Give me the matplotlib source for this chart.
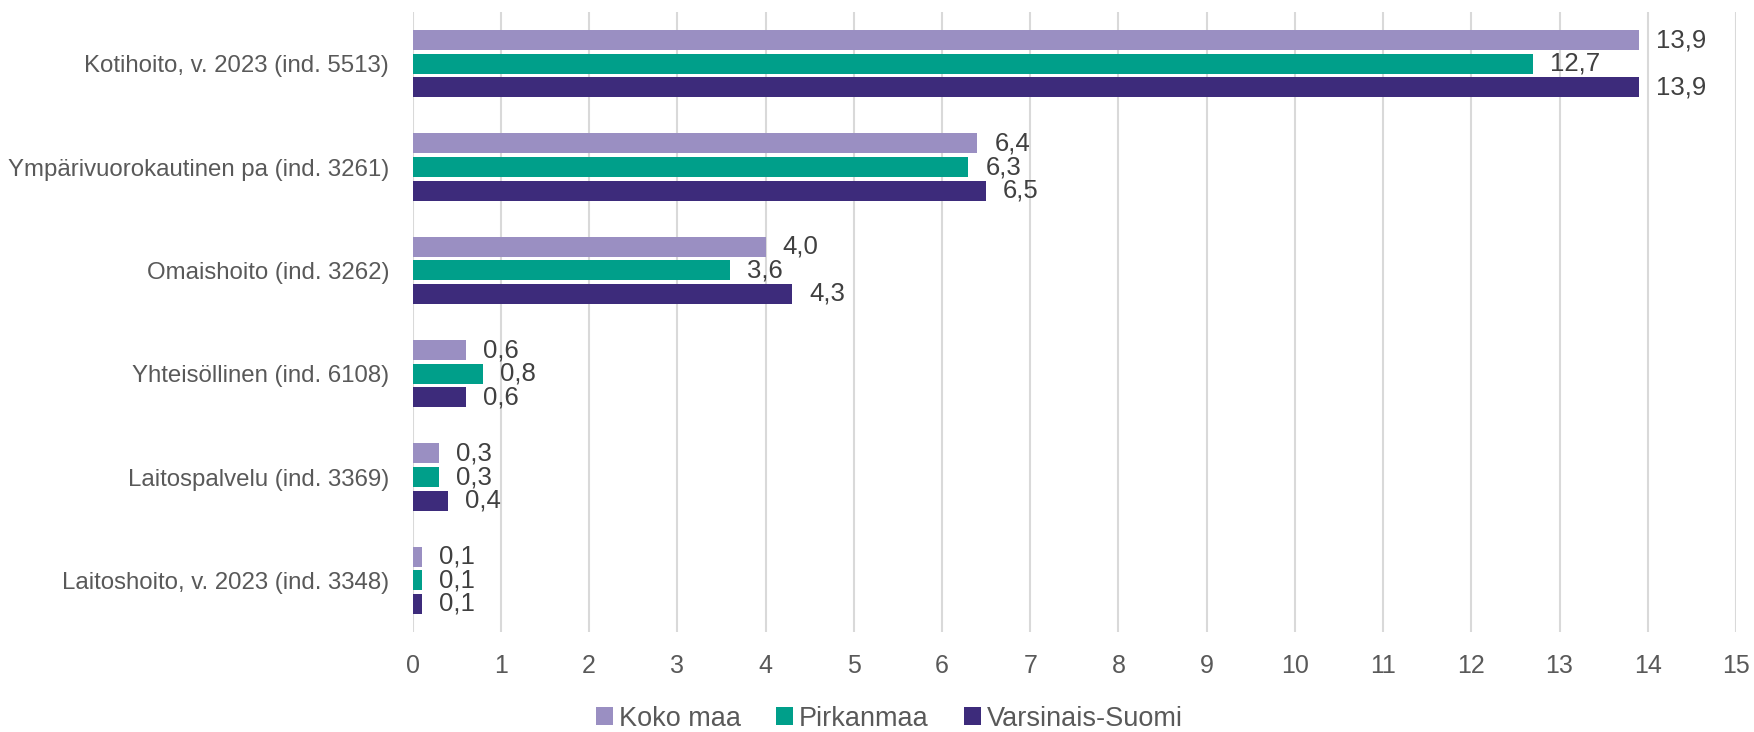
import matplotlib
matplotlib.use("Agg")
import matplotlib.pyplot as plt
import numpy as np

categories = [
    "Kotihoito, v. 2023 (ind. 5513)",
    "Ympärivuorokautinen pa (ind. 3261)",
    "Omaishoito (ind. 3262)",
    "Yhteisöllinen (ind. 6108)",
    "Laitospalvelu (ind. 3369)",
    "Laitoshoito, v. 2023 (ind. 3348)",
]
series_names = ["Koko maa", "Pirkanmaa", "Varsinais-Suomi"]
koko_maa = [13.9, 6.4, 4.0, 0.6, 0.3, 0.1]
pirkanmaa = [12.7, 6.3, 3.6, 0.8, 0.3, 0.1]
varsinais_suomi = [13.9, 6.5, 4.3, 0.6, 0.4, 0.1]
xticks = list(range(0, 16))

colors = ["#9A8FC2", "#009F8A", "#3D2B7B"]
plt.rcParams['font.family'] = ['Liberation Sans', 'DejaVu Sans']

fig = plt.figure(figsize=(17.54, 7.32), dpi=100)
ax = fig.add_axes([0.2353, 0.1366, 0.9897 - 0.2353, 0.9836 - 0.1366])

n = len(categories)
y = np.arange(n)
step = 0.228
height = 0.193
all_series = [koko_maa, pirkanmaa, varsinais_suomi]
for i, (vals, name, c) in enumerate(zip(all_series, series_names, colors)):
    pos = y + (i - 1) * step
    ax.barh(pos, vals, height=height, color=c, label=name, zorder=3)
    for p, v in zip(pos, vals):
        ax.annotate(f"{v:.1f}".replace('.', ','), xy=(v, p), xytext=(17, 0),
                    textcoords='offset pixels', va='center', ha='left',
                    fontsize=18.5, color='#404040', zorder=4)

ax.set_ylim(n - 0.5, -0.5)
ax.set_xlim(0, 15)
ax.set_yticks(y)
ax.set_yticklabels(categories, fontsize=17.3, color='#595959')
ax.set_xticks(xticks)
ax.set_xticklabels([str(t) for t in xticks], fontsize=18, color='#595959')
ax.tick_params(axis='both', length=0)
ax.tick_params(axis='y', pad=17)
ax.tick_params(axis='x', pad=15.5)
ax.grid(axis='x', color='#D9D9D9', linewidth=1.5, zorder=0)
for s in ax.spines.values():
    s.set_visible(False)

fig.legend(loc='lower center', bbox_to_anchor=(0.507, -0.033), ncol=3, frameon=False,
           fontsize=19.5, handlelength=0.65, handleheight=0.65, handletextpad=0.2,
           columnspacing=1.3, labelcolor='#595959')

fig.savefig("out.png", dpi=100)
